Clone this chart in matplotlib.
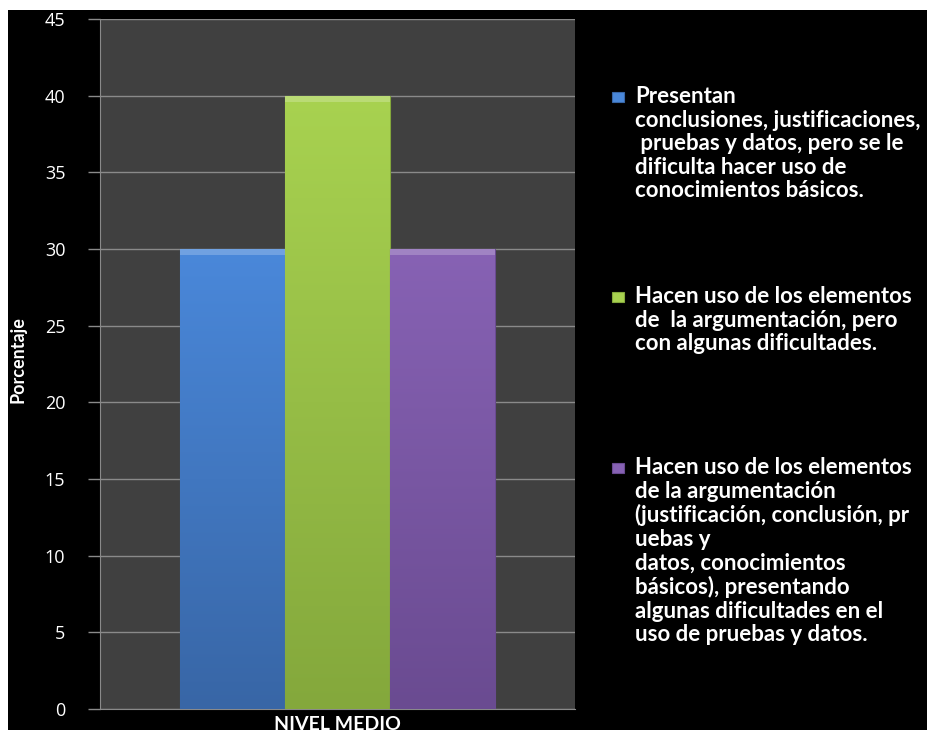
import numpy as np
import matplotlib.pyplot as plt
from matplotlib.patches import Rectangle
from matplotlib.colors import LinearSegmentedColormap

# data
category = "NIVEL MEDIO"
values = [30, 40, 30]
top_colors = ["#4a88da", "#a8d250", "#8762b4"]
bottom_colors = ["#3866a6", "#84a83c", "#6a4b91"]
legend_labels = [
    "Presentan\nconclusiones, justificaciones,\n pruebas y datos, pero se le\ndificulta hacer uso de\nconocimientos básicos.",
    "Hacen uso de los elementos\nde  la argumentación, pero\ncon algunas dificultades.",
    "Hacen uso de los elementos\nde la argumentación\n(justificación, conclusión, pr\nuebas y\ndatos, conocimientos\nbásicos), presentando\nalgunas dificultades en el\nuso de pruebas y datos.",
]
y_ticks = [0, 5, 10, 15, 20, 25, 30, 35, 40, 45]

W, H = 927, 730
fig = plt.figure(figsize=(W / 100, H / 100), dpi=100, facecolor="white")
# black slide background (white strip on top and left)
fig.patches.append(Rectangle((8 / W, 0), 1, 1 - 10 / H, transform=fig.transFigure,
                             facecolor="black", edgecolor="none", zorder=-10))

ax = fig.add_axes([100 / W, 21 / H, 475 / W, 690 / H])
ax.set_facecolor("#404040")

bw = 0.221
offsets = [-bw, 0, bw]
for i, v in enumerate(values):
    x0 = offsets[i] - bw / 2
    bar = ax.bar(offsets[i], v, width=bw, color=top_colors[i],
                 edgecolor=bottom_colors[i], linewidth=0.8, zorder=3)[0]
    cmap = LinearSegmentedColormap.from_list("g%d" % i, [bottom_colors[i], top_colors[i]])
    grad = np.linspace(0, 1, 256).reshape(-1, 1)
    im = ax.imshow(grad, cmap=cmap, aspect="auto", origin="lower",
                   extent=(x0, x0 + bw, 0, v), zorder=3)
    im.set_clip_path(bar)
    # bevel highlight on top
    ax.bar(offsets[i], 0.4, bottom=v - 0.4, width=bw, color="white",
           alpha=0.22, linewidth=0, zorder=4)

ax.set_xlim(-0.5, 0.5)
ax.set_ylim(0, 45)
ax.set_yticks(y_ticks)
ax.yaxis.grid(True, color="#8a8a8a", linewidth=1)
ax.set_axisbelow(True)
ax.set_xticks([0])
ax.set_xticklabels([category])
ax.tick_params(axis="x", length=0, pad=5)
ax.tick_params(axis="y", colors="#8a8a8a", labelcolor="white", labelsize=13,
               length=9, width=1, pad=16)
for lab in ax.get_xticklabels():
    lab.set_family("Lato")
    lab.set_fontweight("bold")
    lab.set_fontsize(14)
    lab.set_color("white")
for lab in ax.get_yticklabels():
    lab.set_family("Open Sans")
for s in ["top", "right"]:
    ax.spines[s].set_visible(False)
for s in ["left", "bottom"]:
    ax.spines[s].set_color("#8a8a8a")

fig.text(18 / W, 1 - 360 / H, "Porcentaje", rotation=90, color="white",
         fontsize=13, fontweight="bold", family="Lato",
         ha="center", va="center")

# legend
legend_y = [97, 297, 468]
for i, lab in enumerate(legend_labels):
    fig.patches.append(Rectangle((612 / W, 1 - (legend_y[i] + 5) / H), 12 / W, 10 / H,
                                 transform=fig.transFigure, facecolor=top_colors[i],
                                 edgecolor=bottom_colors[i], linewidth=0.8))
    fig.text(635 / W, 1 - (legend_y[i] - 11) / H, lab, color="white", fontsize=16,
             family="Lato", fontweight="bold", ha="left", va="top", linespacing=1.15)

fig.savefig("out.png", dpi=100, facecolor=fig.get_facecolor())
